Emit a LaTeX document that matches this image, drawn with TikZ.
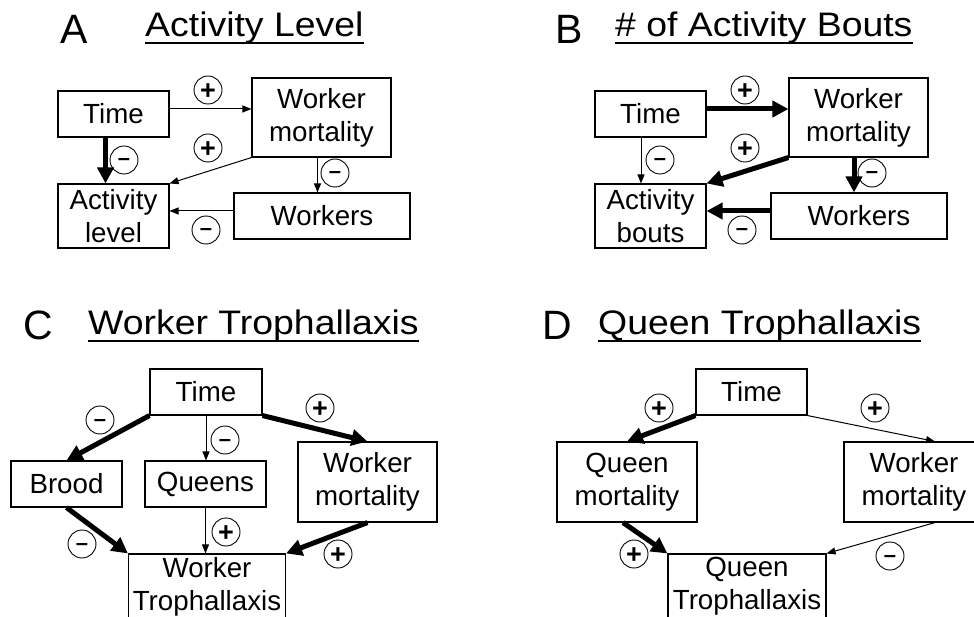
\documentclass[tikz,border=0pt]{standalone}
\usepackage{fontspec}
\setmainfont{Liberation Sans}
\usetikzlibrary{arrows.meta}

\begin{document}
\begin{tikzpicture}[
    x=1pt, y=-1pt,
    box/.style={draw, line width=1.1pt, inner sep=0pt, align=center, font=\fontsize{27.7}{33}\selectfont},
    sign/.style={draw, circle, line width=0.9pt, minimum size=28pt, inner sep=0pt, text depth=0pt},
    plussign/.style={sign, text height=19pt, font=\fontsize{27}{27}\selectfont\bfseries},
    minussign/.style={sign, text height=12pt, font=\fontsize{22}{22}\selectfont\bfseries},
    weak/.style={-{Triangle[length=9pt,width=7pt]}, line width=1pt},
    strong/.style={-{Triangle[length=16pt,width=16pt]}, line width=5pt},
    letter/.style={anchor=base west, inner sep=0pt, font=\fontsize{41}{41}\selectfont},
    heading/.style={anchor=base west, inner sep=0pt, xscale=1.1, font=\fontsize{34}{34}\selectfont},
    uline/.style={line width=2.4pt}
]
\useasboundingbox (0,0) rectangle (974,617);
\clip (0,0) rectangle (974,617);

% Panel A: Activity Level
\node[letter] (letA) at (60,44) {A};
\node[heading] (headA) at (145,37) {Activity Level};
\draw[uline] ([yshift=-6pt]headA.base west) -- ([yshift=-6pt]headA.base east);

\node[box, minimum width=111pt, minimum height=46pt] (timeA) at (113.5,114) {Time};
\node[box, minimum width=139pt, minimum height=79pt] (wmA) at (321.5,117.5) {Worker\\mortality};
\node[box, minimum width=111pt, minimum height=64pt] (actA) at (113.5,216) {Activity\\level};
\node[box, minimum width=176pt, minimum height=46pt] (wkA) at (322,216) {Workers};

\node[plussign] (sA1) at (208,90) {+};
\node[minussign] (sA2) at (124,160) {–};
\node[plussign] (sA3) at (208,148) {+};
\node[minussign] (sA4) at (335,173) {–};
\node[minussign] (sA5) at (206,230) {–};

\draw[weak] ([yshift=5pt]timeA.east) -- ([yshift=5pt]timeA.east -| wmA.west);
\draw[strong] ([xshift=-8pt]timeA.south) -- ([xshift=-8pt]actA.north);
\draw[weak] (wmA.south west) -- (actA.north east);
\draw[weak] ([xshift=-4pt]wmA.south) -- ([xshift=-4pt]wmA.south |- wkA.north);
\draw[weak] ([yshift=5pt]wkA.west) -- ([yshift=5pt]wkA.west -| actA.east);

% Panel B: # of Activity Bouts
\node[letter] (letB) at (555,44) {B};
\node[heading] (headB) at (615,37) {\# of Activity Bouts};
\draw[uline] ([yshift=-6pt]headB.base west) -- ([yshift=-6pt]headB.base east);

\node[box, minimum width=111pt, minimum height=46pt] (timeB) at (650.5,114) {Time};
\node[box, minimum width=139pt, minimum height=79pt] (wmB) at (858.5,117.5) {Worker\\mortality};
\node[box, minimum width=111pt, minimum height=64pt] (actB) at (650.5,216) {Activity\\bouts};
\node[box, minimum width=176pt, minimum height=46pt] (wkB) at (859,216) {Workers};

\node[plussign] (sB1) at (745,90) {+};
\node[minussign] (sB2) at (660,160) {–};
\node[plussign] (sB3) at (745,148) {+};
\node[minussign] (sB4) at (872,173) {–};
\node[minussign] (sB5) at (742,230) {–};

\draw[strong] ([yshift=5pt]timeB.east) -- ([yshift=5pt]timeB.east -| wmB.west);
\draw[weak] ([xshift=-9.5pt]timeB.south) -- ([xshift=-9.5pt]actB.north);
\draw[strong] (wmB.south west) -- (actB.north east);
\draw[strong] ([xshift=-4.5pt]wmB.south) -- ([xshift=-4.5pt]wmB.south |- wkB.north);
\draw[strong] ([yshift=5pt]wkB.west) -- ([yshift=5pt]wkB.west -| actB.east);

% Panel C: Worker Trophallaxis
\node[letter] (letC) at (23,340) {C};
\node[heading] (headC) at (88,335) {Worker Trophallaxis};
\draw[uline] ([yshift=-6pt]headC.base west) -- ([yshift=-6pt]headC.base east);

\node[box, minimum width=112pt, minimum height=46pt] (timeC) at (206,392) {Time};
\node[box, minimum width=111pt, minimum height=46pt] (broodC) at (66.5,484) {Brood};
\node[box, minimum width=121pt, minimum height=46pt] (queensC) at (205.5,484) {Queens};
\node[box, minimum width=139pt, minimum height=80pt] (wmC) at (367.5,482) {Worker\\mortality};
\node[box, minimum width=157pt, minimum height=65pt] (wtC) at (207,586.5) {Worker\\Trophallaxis};

\node[minussign] (sC1) at (100,420) {–};
\node[minussign] (sC2) at (225,440) {–};
\node[plussign] (sC3) at (320,408) {+};
\node[minussign] (sC4) at (82,544) {–};
\node[plussign] (sC5) at (226,532) {+};
\node[plussign] (sC6) at (338,554) {+};

\draw[strong] (timeC.south west) -- (broodC.north);
\draw[weak] (timeC.south) -- (timeC.south |- queensC.north);
\draw[strong] (timeC.south east) -- (wmC.north);
\draw[strong] (broodC.south) -- (wtC.north west);
\draw[weak] (queensC.south) -- (queensC.south |- wtC.north);
\draw[strong] (wmC.south) -- (wtC.north east);

% Panel D: Queen Trophallaxis
\node[letter] (letD) at (542,340) {D};
\node[heading] (headD) at (598,335) {Queen Trophallaxis};
\draw[uline] ([yshift=-6pt]headD.base west) -- ([yshift=-6pt]headD.base east);

\node[box, minimum width=111pt, minimum height=46pt] (timeD) at (751.5,392) {Time};
\node[box, minimum width=140pt, minimum height=80pt] (qmD) at (627,482) {Queen\\mortality};
\node[box, minimum width=140pt, minimum height=80pt] (wmD) at (914,482) {Worker\\mortality};
\node[box, minimum width=158pt, minimum height=65pt] (qtD) at (747,586.5) {Queen\\Trophallaxis};

\node[plussign] (sD1) at (659,408) {+};
\node[plussign] (sD2) at (875,408) {+};
\node[plussign] (sD3) at (634,554) {+};
\node[minussign] (sD4) at (890,556) {–};

\draw[strong] (timeD.south west) -- (qmD.north);
\draw[weak] (timeD.south east) -- ([xshift=21pt]wmD.north);
\draw[strong] ([xshift=-4pt]qmD.south) -- (qtD.north west);
\draw[weak] ([xshift=21pt]wmD.south) -- (qtD.north east);

\end{tikzpicture}
\end{document}
